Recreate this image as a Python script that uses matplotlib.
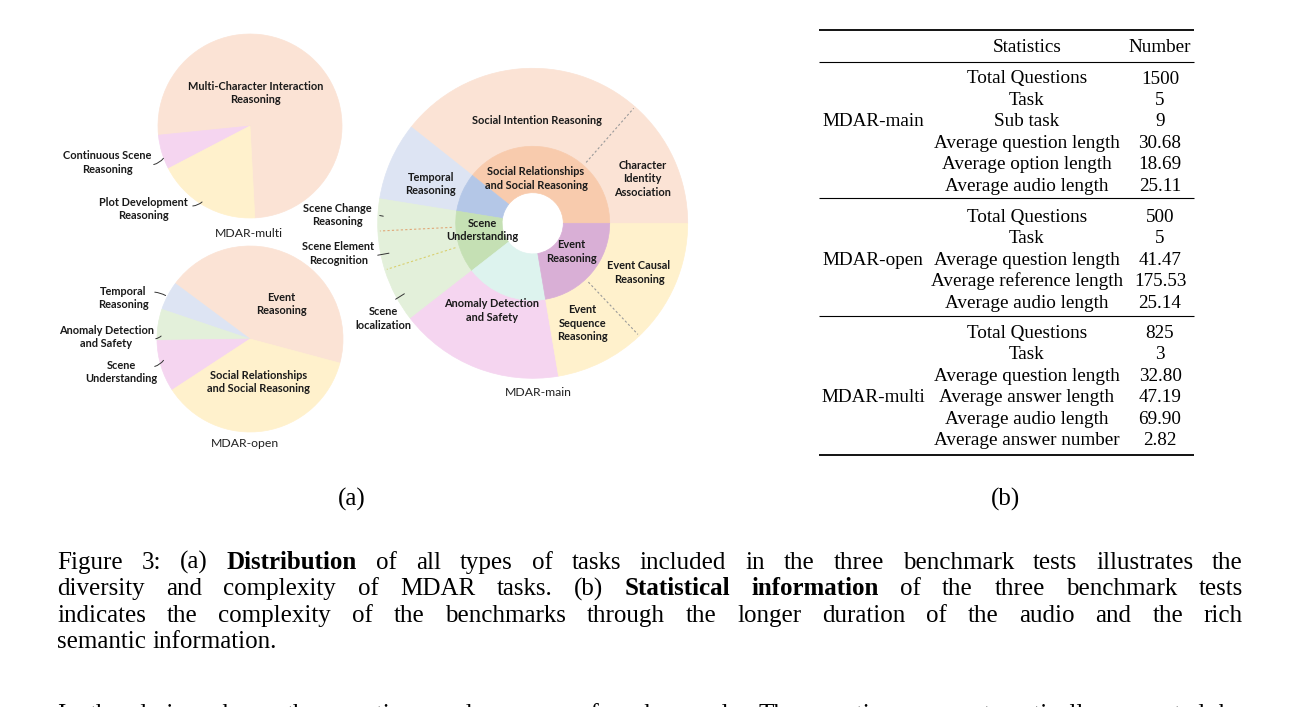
import numpy as np
import matplotlib
matplotlib.use("Agg")
import matplotlib.pyplot as plt

W, H = 1298, 707

# ---- data ----
multi_labels = ["Multi-Character Interaction\nReasoning", "Continuous Scene\nReasoning", "Plot Development\nReasoning"]
multi_vals = [625, 50, 150]

open_labels = ["Event\nReasoning", "Temporal\nReasoning", "Anomaly Detection\nand Safety",
               "Scene\nUnderstanding", "Social Relationships\nand Social Reasoning"]
open_vals = [220, 25, 27, 45, 183]

main_tasks = ["Social Relationships\nand Social Reasoning", "Temporal\nReasoning", "Scene\nUnderstanding",
              "Anomaly Detection\nand Safety", "Event\nReasoning"]
main_task_vals = [590, 122, 196, 257, 335]
main_subtasks = ["Character\nIdentity\nAssociation", "Social Intention Reasoning", "Temporal\nReasoning",
                 "Scene Change\nReasoning", "Scene Element\nRecognition", "Scene\nlocalization",
                 "Anomaly Detection\nand Safety", "Event\nSequence\nReasoning", "Event Causal\nReasoning"]
main_subtask_vals = [203, 387, 122, 50, 61, 85, 257, 141, 194]

groups = ["MDAR-main", "MDAR-open", "MDAR-multi"]
main_stats = ["Total Questions", "Task", "Sub task", "Average question length",
              "Average option length", "Average audio length"]
main_nums = ["1500", "5", "9", "30.68", "18.69", "25.11"]
open_stats = ["Total Questions", "Task", "Average question length",
              "Average reference length", "Average audio length"]
open_nums = ["500", "5", "41.47", "175.53", "25.14"]
multi_stats = ["Total Questions", "Task", "Average question length",
               "Average answer length", "Average audio length", "Average answer number"]
multi_nums = ["825", "3", "32.80", "47.19", "69.90", "2.82"]

caption = [
    "Figure 3: (a) **Distribution** of all types of tasks included in the three benchmark tests illustrates the",
    "diversity and complexity of MDAR tasks. (b) **Statistical** **information** of the three benchmark tests",
    "indicates the complexity of the benchmarks through the longer duration of the audio and the rich",
    "semantic information.",
]
next_line = "In the design phase, the questions and answers of each sample. The questions are automatically generated by"

# ---- colours ----
peach = "#FBE3D5"
orange = "#F8CBAD"
blue_in, blue_out = "#B4C7E7", "#DDE4F3"
green_in, green_out = "#C5E0B4", "#E3F0DA"
cyan_in = "#DDF3EE"
pink = "#F5D5F0"
purple = "#D9AFD6"
yellow = "#FFF1CC"

fig = plt.figure(figsize=(W / 100, H / 100), dpi=100)
ax = fig.add_axes([0, 0, 1, 1])


def Y(y):
    return H - y


def pie(vals, cols, cx, cy, r, start, width=None):
    wp = dict(linewidth=0.5)
    if width:
        wp["width"] = width
    wedges, _ = ax.pie(vals, colors=cols, startangle=start, center=(cx, Y(cy)), radius=r,
                       wedgeprops=wp, counterclock=True)
    for w in wedges:
        w.set_edgecolor(w.get_facecolor())
    return wedges


lab = dict(family="Lato", weight="bold", fontsize=7.9, ha="center", va="center",
           multialignment="center", linespacing=1.3, color="#1a1a1a")
cap = dict(family="Lato", fontsize=8.8, ha="center", va="center", color="#222222")


def leader(x0, y0, x1, y1, rad=0.25):
    ax.annotate("", xy=(x1, Y(y1)), xytext=(x0, Y(y0)),
                arrowprops=dict(arrowstyle="-", connectionstyle=f"arc3,rad={rad}", lw=0.7, color="#333333"))


# MDAR-multi
pie(multi_vals, [peach, pink, yellow], 250, 126, 92, 273)
ax.text(255.7, Y(93), multi_labels[0], **lab)
ax.text(107, Y(162.5), multi_labels[1], **lab)
ax.text(143, Y(209), multi_labels[2], **lab)
leader(151, 165, 165, 156)
leader(190, 206, 204, 200)
ax.text(249, Y(233.5), "MDAR-multi", **cap)

# MDAR-open
pie(open_vals, [peach, blue_out, green_out, pink, yellow], 250, 339, 93, -15)
ax.text(281.7, Y(304), open_labels[0], **lab)
ax.text(123, Y(298), open_labels[1], **lab)
ax.text(106.5, Y(337), open_labels[2], **lab)
ax.text(121, Y(372), open_labels[3], **lab)
ax.text(258.3, Y(382), open_labels[4], **lab)
leader(152, 292, 168, 297, -0.15)
leader(153, 339, 163, 334)
leader(152, 367, 165, 358)
ax.text(245, Y(443.5), "MDAR-open", **cap)

# MDAR-main donut
cx, cy = 532.7, 223.3
r_out, r_mid, r_hole = 155, 77, 30.6
pie(main_subtask_vals, [peach, peach, blue_out, green_out, green_out, green_out, pink, yellow, yellow],
    cx, cy, r_out, 0, width=r_out - r_mid)
pie(main_task_vals, [orange, blue_in, green_in, cyan_in, purple], cx, cy, r_mid, 0, width=r_mid - r_hole)

# dotted boundaries between subtasks of the same task
cum = np.cumsum(main_subtask_vals) / np.sum(main_subtask_vals) * 2 * np.pi
for i, col in [(0, "#9a9a9a"), (3, "#E0A878"), (4, "#D9D070"), (7, "#9a9a9a")]:
    a = cum[i]
    ax.plot([cx + 81 * np.cos(a), cx + 153 * np.cos(a)], [Y(cy) + 81 * np.sin(a), Y(cy) + 153 * np.sin(a)],
            ls=(0, (2, 2)), lw=0.8, color=col)

ax.text(536.7, Y(120), main_subtasks[1], **lab)
ax.text(642.7, Y(179), main_subtasks[0], **lab)
ax.text(430.7, Y(184), main_subtasks[2], **lab)
ax.text(536, Y(178.3), main_tasks[0], **lab)
ax.text(337.3, Y(215), main_subtasks[3], **lab)
ax.text(482.7, Y(230), main_tasks[2], **lab)
ax.text(338.3, Y(253.3), main_subtasks[4], **lab)
ax.text(571.7, Y(251.7), main_tasks[4], **lab)
ax.text(639, Y(272.3), main_subtasks[8], **lab)
ax.text(383.3, Y(318.3), main_subtasks[5], **lab)
ax.text(491.7, Y(310.7), main_subtasks[6], **lab)
ax.text(582.7, Y(323.3), main_subtasks[7], **lab)
leader(377, 215, 386, 216.7, 0)
leader(375, 255.7, 391.7, 252.7, 0)
leader(393.3, 300.7, 406.7, 292.3, 0)
ax.text(538.3, Y(392.3), "MDAR-main", **cap)

# pies reset the limits, so fix the pixel frame now
ax.set_xlim(0, W)
ax.set_ylim(0, H)
ax.set_aspect("equal")
ax.axis("off")

# ---- table ----
serif = dict(family="Liberation Serif", fontsize=13.8, va="baseline", color="black")
x_grp, x_stat, x_num = 873, 1027, 1160
step = 21.45
ax.text(x_stat, Y(52), "Statistics", ha="center", **serif)
ax.text(x_num, Y(52), "Number", ha="center", **serif)
for g, stats, nums, base, grow in [(groups[0], main_stats, main_nums, 83.5, 2),
                                    (groups[1], open_stats, open_nums, 222, 2),
                                    (groups[2], multi_stats, multi_nums, 338, 3)]:
    for i, (s, n) in enumerate(zip(stats, nums)):
        ax.text(x_stat, Y(base + i * step), s, ha="center", **serif)
        ax.text(x_num, Y(base + i * step), n, ha="center", **serif)
    ax.text(x_grp, Y(base + grow * step), g, ha="center", **serif)
for yy, lw in [(30, 1.3), (62, 0.8), (198, 0.8), (316, 0.8), (455, 1.3)]:
    ax.plot([819, 1194], [Y(yy), Y(yy)], color="black", lw=lw, solid_capstyle="butt")

# ---- caption (justified) ----
cap_serif = dict(serif, fontsize=18)
ax.text(352, Y(506), "(a)", ha="center", **cap_serif)
ax.text(1006, Y(506), "(b)", ha="center", **cap_serif)

fig.canvas.draw()


def justify(line, y, x0=57, x1=1243, last=False):
    objs = []
    for w in line.split(" "):
        bold = w.startswith("**")
        w = w.strip("*")
        objs.append(ax.text(x0, Y(y), w, ha="left", weight="bold" if bold else "normal", **cap_serif))
    fig.canvas.draw()
    widths = [t.get_window_extent().width for t in objs]
    gap = 6.2 if last else max(5.0, (x1 - x0 - sum(widths)) / (len(objs) - 1))
    x = x0
    for t, wd in zip(objs, widths):
        t.set_x(x)
        x += wd + gap


for i, line in enumerate(caption):
    justify(line, 569 + i * 26.3, last=(i == len(caption) - 1))
justify(next_line, 721)

fig.savefig("out.png", dpi=100, facecolor="white")
